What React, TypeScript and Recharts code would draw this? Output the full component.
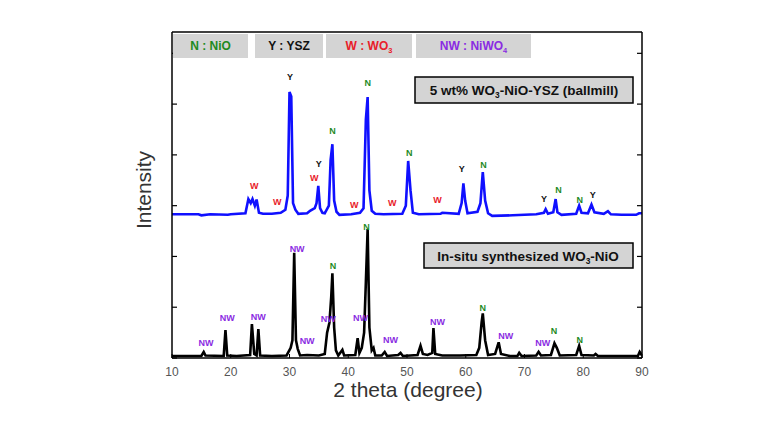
import { ComposedChart, Line, XAxis, YAxis, ReferenceDot } from 'recharts'

// 5 wt% WO3-NiO-YSZ (ball mill), upper pattern
const ballmillTheta = [
  10, 14.5, 15, 16.5, 19.5, 20, 22.5, 23.0, 23.4, 23.7,
  24.1, 24.4, 24.8, 25.5, 27, 28.5, 29.3, 29.7, 30.0, 30.3,
  30.6, 31.0, 31.5, 33.0, 33.5, 34.3, 34.6, 34.9, 35.2, 35.6,
  36.0, 36.7, 37.0, 37.3, 37.6, 38.0, 38.5, 40.5, 42.0, 42.6,
  43.0, 43.3, 43.6, 44.0, 44.6, 46.0, 49.2, 49.8, 50.2, 50.6,
  51.0, 52, 55.7, 56, 58.8, 59.3, 59.6, 59.9, 60.3, 62.0,
  62.5, 62.9, 63.3, 63.8, 64.5, 68, 72, 73.3, 73.6, 74,
  74.9, 75.3, 75.6, 76.3, 78.8, 79.3, 79.7, 80.8, 81.4, 81.9,
  83.5, 84.2, 84.7, 86.5, 89, 89.5, 90,
]
const ballmillIntensity = [
  2.83, 2.83, 2.81, 2.83, 2.82, 2.83, 2.85, 3.13, 3.05, 3.13,
  3.0, 3.12, 2.86, 2.84, 2.84, 2.86, 2.92, 3.2, 5.24, 5.15,
  3.05, 2.92, 2.84, 2.85, 2.9, 2.95, 3.05, 3.39, 2.95, 2.86,
  2.85, 3.0, 3.9, 4.21, 3.1, 2.88, 2.82, 2.83, 2.86, 2.95,
  4.7, 5.14, 3.3, 2.9, 2.84, 2.83, 2.84, 3.0, 3.88, 3.3,
  2.86, 2.83, 2.84, 2.86, 2.84, 3.05, 3.44, 3.1, 2.85, 2.88,
  3.05, 3.66, 3.1, 2.85, 2.8, 2.81, 2.83, 2.86, 2.93, 2.84,
  2.87, 3.13, 2.87, 2.82, 2.84, 3.0, 2.86, 2.85, 3.02, 2.87,
  2.84, 2.89, 2.83, 2.82, 2.82, 2.85, 2.85,
]

// in-situ synthesized WO3-NiO, lower pattern
const insituTheta = [
  10, 15.0, 15.4, 15.7, 18.8, 19.1, 19.4, 21, 23.3, 23.6,
  24.0, 24.4, 24.7, 25.0, 27, 29.5, 30.2, 30.5, 30.8, 31.1,
  31.4, 31.8, 33, 35, 36.0, 36.4, 36.8, 37.1, 37.3, 37.6,
  37.9, 38.3, 39.0, 39.3, 41.2, 41.6, 41.9, 42.3, 42.7, 43.0,
  43.3, 43.6, 44.0, 44.3, 44.6, 45.7, 46.2, 46.6, 48.5, 48.9,
  49.3, 51.8, 52.3, 52.7, 53.5, 54.3, 54.5, 54.8, 56, 59,
  61.8, 62.3, 62.7, 62.9, 63.3, 63.8, 65.0, 65.6, 66.0, 67.5,
  68.8, 69.1, 69.5, 72, 72.4, 72.8, 74.5, 75.1, 75.5, 76,
  78.8, 79.3, 79.7, 81.8, 82.1, 82.5, 88, 89.3, 89.6, 90,
]
const insituIntensity = [
  0.04, 0.04, 0.12, 0.05, 0.04, 0.55, 0.05, 0.04, 0.06, 0.67,
  0.08, 0.05, 0.57, 0.05, 0.04, 0.05, 0.2, 0.35, 2.07, 0.35,
  0.18, 0.05, 0.06, 0.05, 0.08, 0.5, 0.7, 1.2, 1.67, 0.6,
  0.15, 0.05, 0.16, 0.05, 0.06, 0.39, 0.1, 0.2, 0.5, 1.5,
  2.54, 0.6, 0.15, 0.2, 0.05, 0.05, 0.12, 0.04, 0.06, 0.1,
  0.04, 0.06, 0.24, 0.08, 0.06, 0.1, 0.59, 0.08, 0.05, 0.05,
  0.06, 0.2, 0.7, 0.88, 0.35, 0.06, 0.08, 0.31, 0.08, 0.04,
  0.04, 0.1, 0.04, 0.05, 0.12, 0.05, 0.06, 0.29, 0.2, 0.05,
  0.06, 0.24, 0.06, 0.05, 0.08, 0.04, 0.04, 0.04, 0.12, 0.05,
]

// peak markers: [2theta, intensity, phase]
const ballmillPeaks: [number, number, string][] = [
  [24.0, 3.39, 'W'], [27.9, 3.07, 'W'], [30.1, 5.53, 'Y'], [34.2, 3.54, 'W'],
  [35.0, 3.82, 'Y'], [37.3, 4.47, 'N'], [41.0, 3.01, 'W'], [43.3, 5.41, 'N'],
  [47.5, 3.05, 'W'], [50.4, 4.04, 'N'], [55.2, 3.11, 'W'], [59.3, 3.72, 'Y'],
  [63.0, 3.8, 'N'], [73.3, 3.13, 'Y'], [75.8, 3.31, 'N'], [79.4, 3.11, 'N'],
  [81.6, 3.21, 'Y'],
]
const insituPeaks: [number, number, string][] = [
  [15.8, 0.3, 'NW'], [19.4, 0.79, 'NW'], [24.7, 0.81, 'NW'], [31.3, 2.15, 'NW'],
  [33.0, 0.33, 'NW'], [36.6, 0.77, 'NW'], [37.4, 1.81, 'N'], [42.1, 0.79, 'NW'],
  [43.1, 2.58, 'N'], [47.2, 0.35, 'NW'], [55.2, 0.71, 'NW'], [62.9, 0.98, 'N'],
  [66.8, 0.43, 'NW'], [73.1, 0.3, 'NW'], [75.0, 0.53, 'N'], [79.4, 0.35, 'N'],
]

const thetaTicks = [10, 20, 30, 40, 50, 60, 70, 80, 90]
const intensityTicks = [0, 1, 2, 3, 4, 5, 6]

const phaseKeys = ['N', 'Y', 'W', 'NW']
const phaseNames = ['NiO', 'YSZ', 'WO3', 'NiWO4']

const phaseColor: Record<string, string> = {
  N: '#1f8a1f',
  Y: '#111111',
  W: '#e8202a',
  NW: '#8a2be2',
}

const FONT = '"Liberation Sans", Arial, sans-serif'

// digits right after a letter become subscripts (WO3, NiWO4)
function Formula({ text, size }: { text: string; size: number }) {
  const parts: JSX.Element[] = []
  const re = /([A-Za-z])(\d)/g
  let last = 0
  let m: RegExpExecArray | null
  let k = 0
  let shifted = false
  while ((m = re.exec(text))) {
    const cut = m.index + 1
    parts.push(<tspan key={k++} dy={shifted ? -3 : 0}>{text.slice(last, cut)}</tspan>)
    parts.push(<tspan key={k++} dy={3} fontSize={size * 0.62}>{m[2]}</tspan>)
    shifted = true
    last = cut + 1
  }
  if (last < text.length) parts.push(<tspan key={k++} dy={shifted ? -3 : 0}>{text.slice(last)}</tspan>)
  return <>{parts}</>
}

const legendBoxes = [
  { x: 173, w: 75 },
  { x: 255, w: 68 },
  { x: 326, w: 86 },
  { x: 416, w: 115 },
]

export default function App() {
  const ballmillData = ballmillTheta.map((t, i) => ({ t, v: ballmillIntensity[i] }))
  const insituData = insituTheta.map((t, i) => ({ t, v: insituIntensity[i] }))

  const peakDot = (p: [number, number, string], i: number, tag: string, axis: string | number) => (
    <ReferenceDot
      key={tag + i}
      x={p[0]}
      y={p[1]}
      yAxisId={axis}
      r={0.5}
      fill="none"
      stroke="none"
      ifOverflow="visible"
      label={{
        value: p[2],
        position: 'center',
        fill: phaseColor[p[2]],
        fontSize: 9,
        fontWeight: 'bold',
        fontFamily: FONT,
      }}
    />
  )

  return (
    <div style={{ position: 'absolute', left: 0, top: 0, width: 767, height: 422, background: '#fff' }}>
      <ComposedChart
        width={767}
        height={422}
        margin={{ top: 31, right: 125, bottom: 63, left: 171 }}
        style={{ fontFamily: FONT }}
      >
        <XAxis
          type="number"
          dataKey="t"
          domain={[10, 90]}
          ticks={thetaTicks}
          interval={0}
          height={1}
          tickSize={-4}
          tickMargin={13}
          allowDataOverflow
          stroke="#000"
          axisLine={{ stroke: '#000', strokeWidth: 1.5 }}
          tick={{ fill: '#555', fontSize: 12 }}
        />
        <XAxis
          xAxisId="top"
          orientation="top"
          type="number"
          domain={[10, 90]}
          allowDataOverflow
          height={1}
          tick={false}
          tickLine={false}
          axisLine={{ stroke: '#000', strokeWidth: 1.5 }}
        />
        <YAxis
          type="number"
          domain={[0, 6.42]}
          ticks={intensityTicks}
          interval={0}
          width={1}
          tickSize={-5}
          allowDataOverflow
          tickFormatter={() => ''}
          stroke="#000"
          tickLine={{ stroke: '#000', strokeWidth: 1.2 }}
          axisLine={{ stroke: '#000', strokeWidth: 1.5 }}
        />
        <YAxis
          yAxisId="r"
          orientation="right"
          mirror
          type="number"
          domain={[0, 6.42]}
          ticks={intensityTicks}
          interval={0}
          width={1}
          tickSize={5}
          allowDataOverflow
          tickFormatter={() => ''}
          stroke="#000"
          tickLine={{ stroke: '#000', strokeWidth: 1.2 }}
          axisLine={{ stroke: '#000', strokeWidth: 1.5 }}
        />
        <Line
          data={insituData}
          dataKey="v"
          type="linear"
          stroke="#000000"
          strokeWidth={2.6}
          dot={false}
          isAnimationActive={false}
        />
        <Line
          data={ballmillData}
          dataKey="v"
          yAxisId="r"
          type="linear"
          stroke="#1010ff"
          strokeWidth={2.6}
          dot={false}
          isAnimationActive={false}
        />
        {ballmillPeaks.map((p, i) => peakDot(p, i, 'b', 'r'))}
        {insituPeaks.map((p, i) => peakDot(p, i, 'k', 0))}
      </ComposedChart>

      <svg
        width={767}
        height={422}
        style={{ position: 'absolute', left: 0, top: 0, pointerEvents: 'none', fontFamily: FONT }}
      >
        {legendBoxes.map((b, i) => (
          <g key={i}>
            <rect x={b.x} y={34} width={b.w} height={24} fill="#d4d4d4" />
            <text
              x={b.x + b.w / 2}
              y={50}
              textAnchor="middle"
              fontSize={12}
              fontWeight="bold"
              fill={phaseColor[phaseKeys[i]]}
            >
              <Formula text={`${phaseKeys[i]} : ${phaseNames[i]}`} size={12} />
            </text>
          </g>
        ))}

        <rect x={415} y={77} width={218} height={26} fill="#d4d4d4" stroke="#000" strokeWidth={1.5} />
        <text x={524} y={95} textAnchor="middle" fontSize={13.5} fontWeight="bold" fill="#111">
          <Formula text="5 wt% WO3-NiO-YSZ (ballmill)" size={13.5} />
        </text>

        <rect x={424} y={243} width={209} height={25} fill="#d4d4d4" stroke="#000" strokeWidth={1.5} />
        <text x={528} y={261} textAnchor="middle" fontSize={13.5} fontWeight="bold" fill="#111">
          <Formula text="In-situ synthesized WO3-NiO" size={13.5} />
        </text>

        <text
          x={143}
          y={190}
          textAnchor="middle"
          dominantBaseline="central"
          fontSize={21}
          fill="#333"
          transform="rotate(-90 143 190)"
        >
          Intensity
        </text>
        <text x={408} y={397} textAnchor="middle" fontSize={21} fill="#333">
          2 theta (degree)
        </text>
      </svg>
    </div>
  )
}
